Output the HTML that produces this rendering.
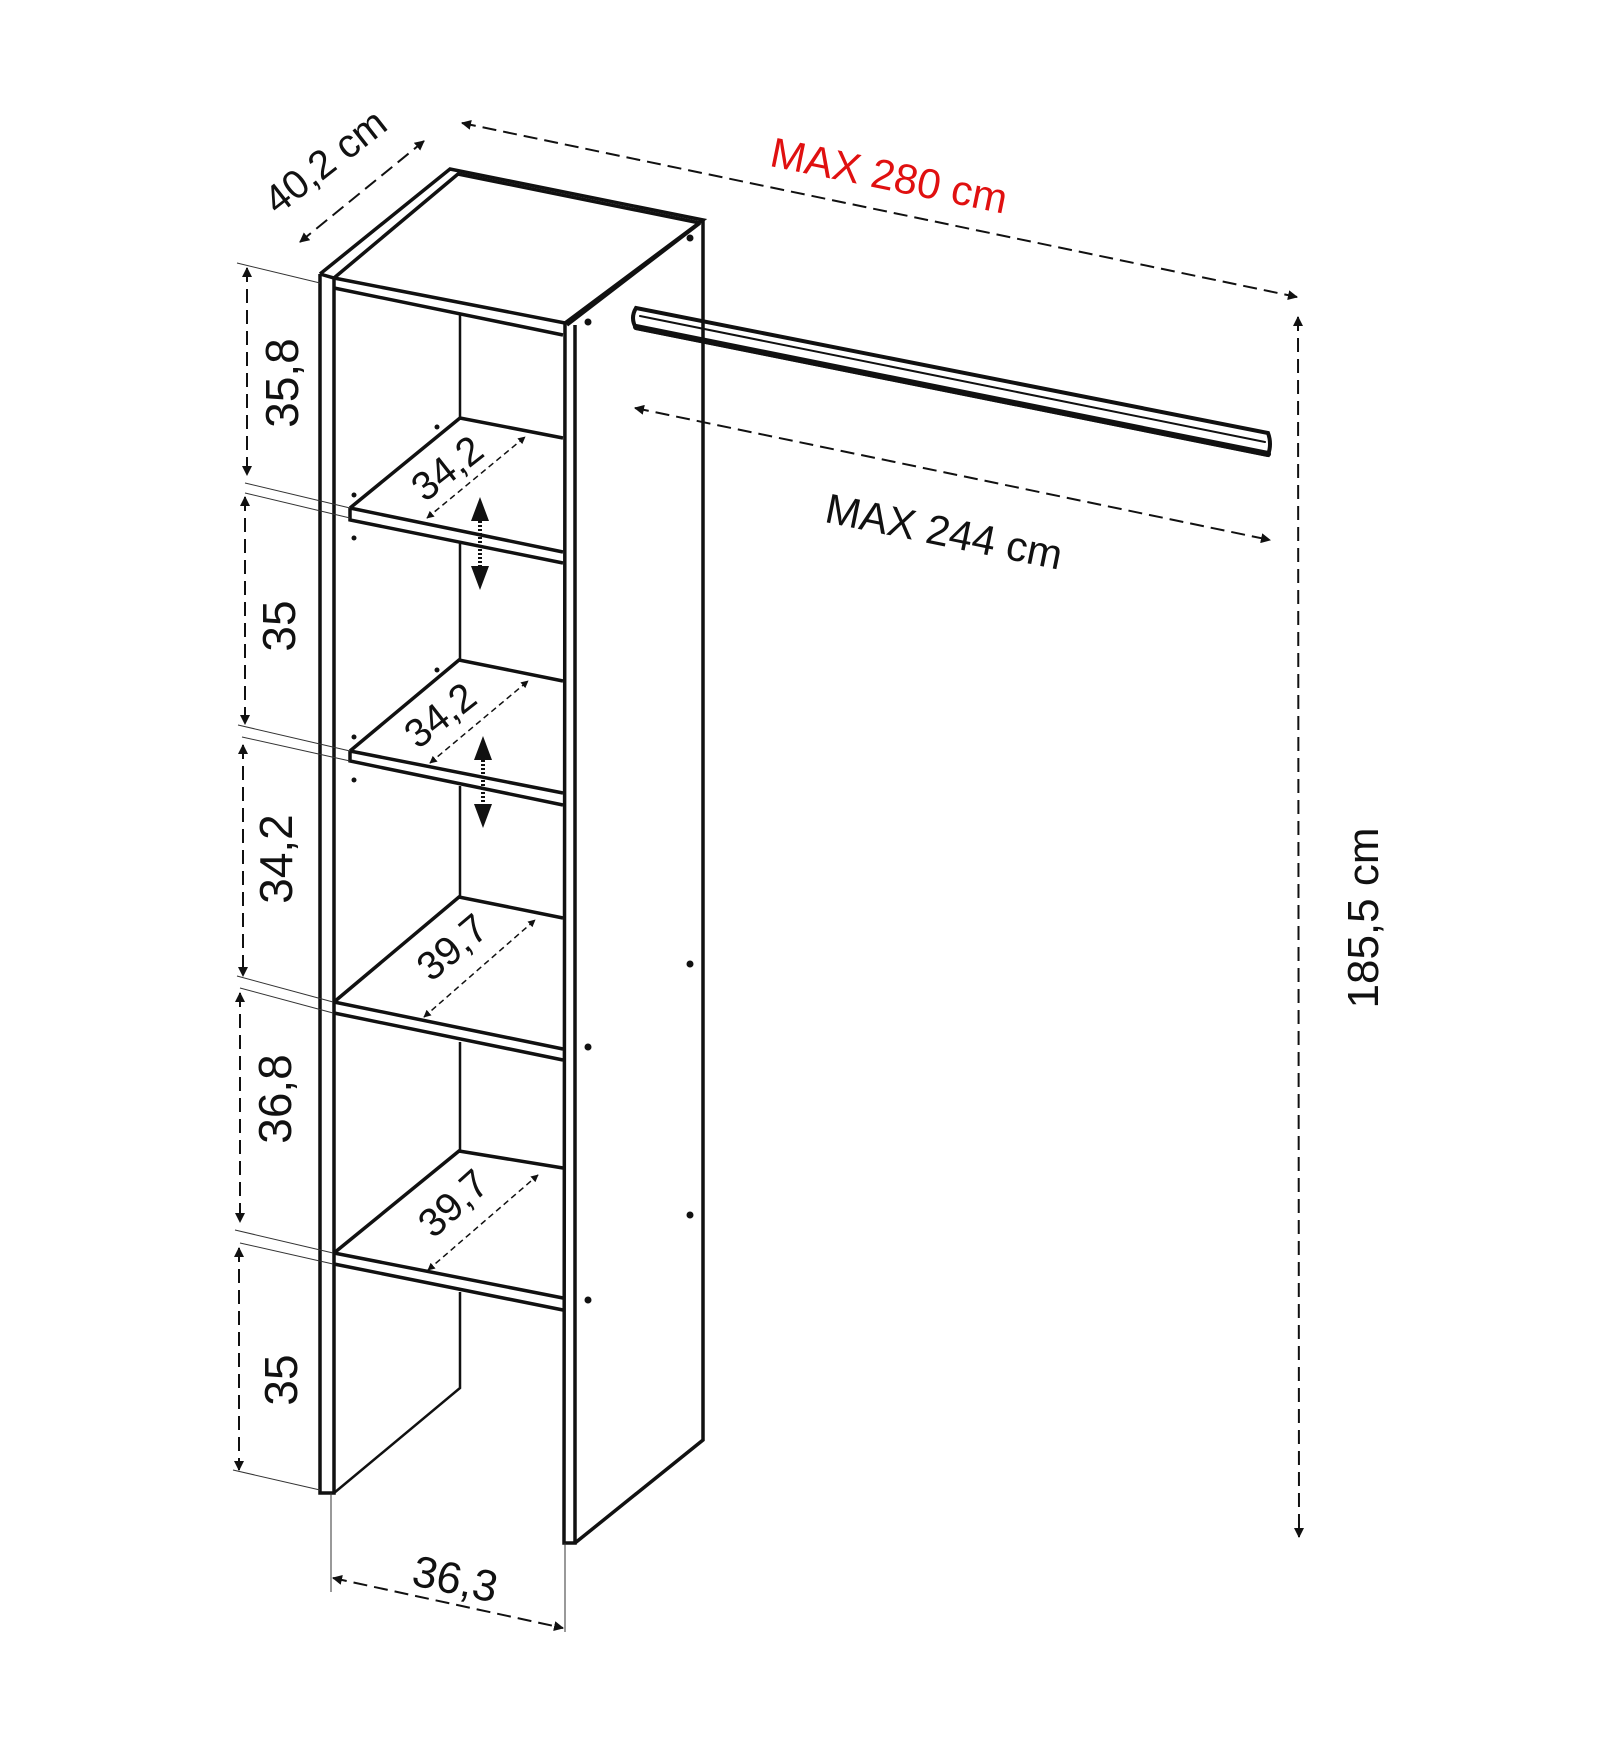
<!DOCTYPE html>
<html><head><meta charset="utf-8"><style>
html,body{margin:0;padding:0;background:#fff}
svg{display:block}
text{font-family:"Liberation Sans","DejaVu Sans",sans-serif;fill:#111}
</style></head><body>
<svg width="1597" height="1737" viewBox="0 0 1597 1737" xmlns="http://www.w3.org/2000/svg">
<defs>
<marker id="a" viewBox="0 0 10 10" refX="9" refY="5" markerWidth="5" markerHeight="5" orient="auto-start-reverse"><path d="M0,0 L10,5 L0,10 z" fill="#111"/></marker>
</defs>
<rect width="1597" height="1737" fill="#fff"/>

<g fill="none" stroke="#111" stroke-width="3.5" stroke-linejoin="miter">
<path d="M320,274 L450,169 L703,220 L565,323"/>
<path d="M334,278 L458,174 L700,223 M567,325 L700,223"/>
<path d="M320,274 L334,278 L565,323 M334,288 L563,335"/>
<path d="M320,274 L320,1493 L334,1493 L334,278"/>
<path d="M565,323 L564,1543 L575,1543 L575,325"/>
<path d="M703,220 L703,1440 L575,1543"/>
<path d="M460,313 L460,418 M460,542 L460,660 M460,786 L460,897 M460,1042 L460,1151 M460,1292 L460,1388 L334,1493" stroke-width="2.5"/>
<!-- shelf 1 -->
<path d="M350,508 L460,418 L563,438 M350,508 L350,520 L563,563 M350,508 L563,552"/>
<!-- shelf 2 -->
<path d="M350,751 L459,660 L563,681 M350,751 L350,761 L563,805 M350,751 L563,793"/>
<!-- shelf 3 -->
<path d="M334,1002 L459,897 L563,918 M334,1002 L563,1049 M334,1013 L563,1060"/>
<!-- shelf 4 -->
<path d="M334,1253 L459,1151 L563,1168 M334,1253 L563,1298 M334,1264 L563,1310"/>
</g>
<g fill="#111">
<circle cx="690" cy="238" r="3.5"/><circle cx="588" cy="322" r="3.5"/>
<circle cx="690" cy="964" r="3.5"/><circle cx="588" cy="1047" r="3.5"/>
<circle cx="690" cy="1215" r="3.5"/><circle cx="588" cy="1300" r="3.5"/>
<circle cx="437" cy="427" r="2.5"/><circle cx="354" cy="495" r="2.5"/><circle cx="354" cy="538" r="2.5"/>
<circle cx="437" cy="670" r="2.5"/><circle cx="354" cy="737" r="2.5"/><circle cx="354" cy="780" r="2.5"/>
</g>

<g fill="none" stroke="#111" stroke-linecap="round">
<path d="M636,308 L1268,433 Q1272,444 1268,455 L636,328 Q630,318 636,308 z" stroke-width="4"/>
<path d="M636,327 L1268,454" stroke-width="6"/>
<path d="M640,316 L1265,442" stroke-width="2"/>
</g>

<g fill="#111">
<path d="M480,497 L471,521 L489,521 z M480,590 L471,566 L489,566 z"/>
<path d="M483,736 L474,760 L492,760 z M483,828 L474,804 L492,804 z"/>
</g>
<path d="M480,521 L480,566 M483,760 L483,804" stroke="#111" stroke-width="4" stroke-dasharray="2 2"/>

<g fill="none" stroke="#111" stroke-width="2" stroke-dasharray="14 7" marker-start="url(#a)" marker-end="url(#a)">
<path d="M300,242 L424,141"/>
<path d="M462,123 L1297,297"/>
<path d="M635,408 L1270,540"/>
<path d="M1298,317 L1299,1537"/>
<path d="M247,268 L247,475"/>
<path d="M245,497 L245,724"/>
<path d="M243,745 L243,976"/>
<path d="M240,993 L240,1222"/>
<path d="M239,1248 L239,1470"/>
<path d="M333,1578 L563,1628"/>
</g>
<g fill="none" stroke="#111" stroke-width="1.5" stroke-dasharray="6 4" marker-start="url(#a)" marker-end="url(#a)">
<path d="M427,518 L525,437"/>
<path d="M430,763 L528,681"/>
<path d="M424,1017 L535,920"/>
<path d="M428,1270 L538,1175"/>
</g>
<g stroke="#333" stroke-width="1" fill="none">
<path d="M237,263 L320,283"/>
<path d="M245,483 L350,508 M245,493 L350,518"/>
<path d="M238,725 L350,751 M242,737 L350,761"/>
<path d="M237,976 L333,1002 M240,988 L333,1013"/>
<path d="M235,1230 L333,1253 M240,1243 L333,1264"/>
<path d="M233,1470 L320,1490"/>
<path d="M331,1493 L331,1592 M565,1543 L565,1632"/>
</g>

<text x="325" y="175" font-size="40" text-anchor="middle" transform="rotate(-38 325 161)">40,2 cm</text>
<text x="889" y="190" font-size="42" text-anchor="middle" style="fill:#e01010" transform="rotate(11.5 889 176)">MAX 280 cm</text>
<text x="944" y="546" font-size="42" text-anchor="middle" transform="rotate(11.5 944 532)">MAX 244 cm</text>
<text x="1363" y="933" font-size="44" text-anchor="middle" transform="rotate(-90 1363 918)">185,5 cm</text>
<g font-size="46" text-anchor="middle">
<text x="283" y="398" transform="rotate(-90 283 383)">35,8</text>
<text x="280" y="641" transform="rotate(-90 280 626)">35</text>
<text x="277" y="874" transform="rotate(-90 277 859)">34,2</text>
<text x="276" y="1114" transform="rotate(-90 276 1099)">36,8</text>
<text x="282" y="1395" transform="rotate(-90 282 1380)">35</text>
</g>
<text x="455" y="1594" font-size="44" text-anchor="middle" transform="rotate(12 455 1580)">36,3</text>
<g font-size="40" text-anchor="middle">
<text x="447" y="482" transform="rotate(-38 447 468)">34,2</text>
<text x="440" y="729" transform="rotate(-38 440 715)">34,2</text>
<text x="452" y="961" transform="rotate(-40 452 947)">39,7</text>
<text x="453" y="1217" transform="rotate(-42 453 1203)">39,7</text>
</g>
</svg>
</body></html>
